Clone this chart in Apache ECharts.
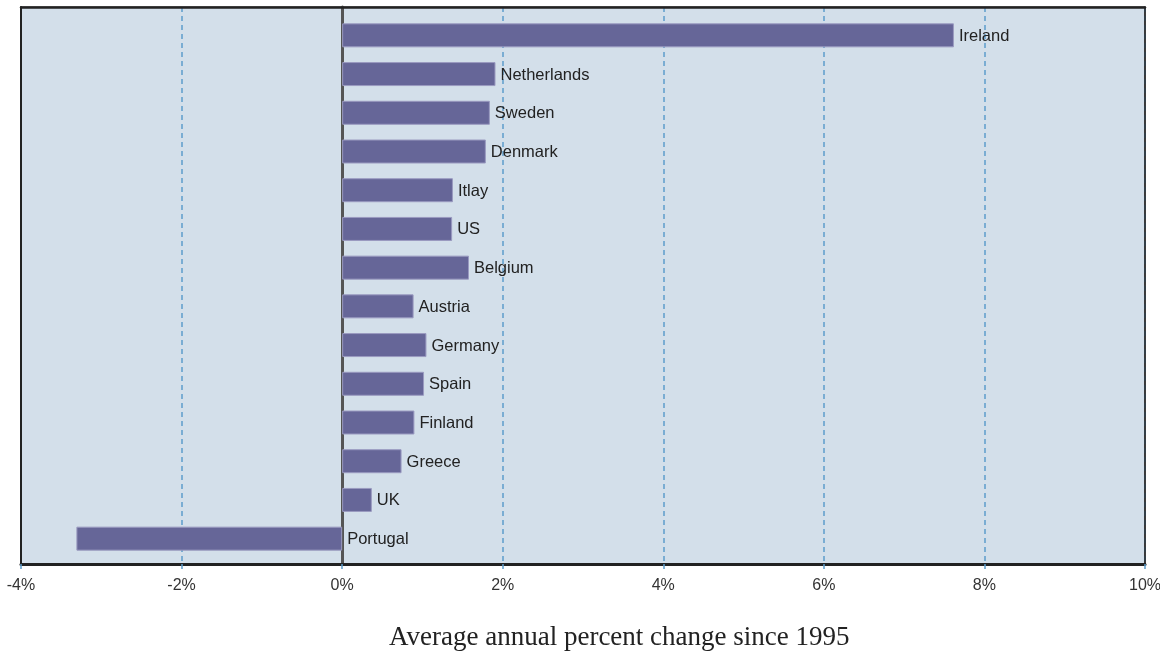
<!DOCTYPE html>
<html>
<head>
<meta charset="utf-8">
<script src="https://cdn.jsdelivr.net/npm/echarts@6/dist/echarts.min.js"></script>
<style>
    html, body { margin: 0; padding: 0; background: #fff; }
    #chart { width: 1160px; height: 651px; }
</style>
</head>
<body>
<div id="chart"></div>
<script>
// 数据
var countries = ['Ireland', 'Netherlands', 'Sweden', 'Denmark', 'Itlay', 'US', 'Belgium',
    'Austria', 'Germany', 'Spain', 'Finland', 'Greece', 'UK', 'Portugal'];
var change = [7.62, 1.91, 1.84, 1.79, 1.38, 1.37, 1.58, 0.89, 1.05, 1.02, 0.90, 0.74, 0.37, -3.31];
var axisMin = -4, axisMax = 10, axisStep = 2;
var axisTitle = 'Average annual percent change since 1995';

var chart = echarts.init(document.getElementById('chart'));

var gridLineColor = '#5d9dcb';

// 外框左右边线
function frameSide(pos, width) {
    return {
        gridIndex: 0, type: 'category', data: [''], position: pos,
        axisLine: {show: true, onZero: false, lineStyle: {color: '#222', width: width}},
        axisTick: {show: false}, axisLabel: {show: false}, splitLine: {show: false}
    };
}

var option = {
    animation: false,
    title: {
        text: axisTitle,
        left: 384, top: 619,
        textStyle: {fontFamily: 'Liberation Serif', fontSize: 27, fontWeight: 'normal', color: '#222'}
    },
    grid: [
        // 外框 + 网格线
        {left: 21, right: 15, top: 7, bottom: 87, show: true, outerBoundsMode: 'none',
            backgroundColor: '#d3dfea', borderColor: '#222', borderWidth: 1},
        // 柱子
        {left: 21, right: 15, top: 16, bottom: 93, outerBoundsMode: 'none'}
    ],
    xAxis: [
        {
            gridIndex: 0, type: 'value', min: axisMin, max: axisMax, interval: axisStep,
            position: 'bottom',
            axisLine: {show: true, onZero: false, lineStyle: {color: '#222', width: 3}},
            axisTick: {show: true, length: 6, lineStyle: {color: gridLineColor, width: 1.5, type: [5, 4]}},
            axisLabel: {
                margin: 14, fontFamily: 'Liberation Sans', fontSize: 16, color: '#333',
                formatter: function (v) { return v + '%'; }
            },
            splitLine: {show: true, lineStyle: {color: gridLineColor, width: 1.5, type: [5, 4]}}
        },
        {
            gridIndex: 0, type: 'value', min: axisMin, max: axisMax, position: 'top',
            axisLine: {show: true, onZero: false, lineStyle: {color: '#222', width: 2.5}},
            axisTick: {show: false}, axisLabel: {show: false}, splitLine: {show: false}
        },
        {
            gridIndex: 1, type: 'value', min: axisMin, max: axisMax, show: false
        }
    ],
    yAxis: [
        {
            gridIndex: 0, type: 'category', data: [''],
            axisLine: {show: true, onZero: true, lineStyle: {color: '#555', width: 3}},
            axisTick: {show: false}, axisLabel: {show: false}, splitLine: {show: false}
        },
        {
            gridIndex: 1, type: 'category', data: countries, inverse: true, show: false
        },
        frameSide('left', 2),
        frameSide('right', 1.5)
    ],
    series: [
        {
            type: 'scatter', xAxisIndex: 0, yAxisIndex: 0, data: [], silent: true
        },
        {
            type: 'bar', xAxisIndex: 2, yAxisIndex: 1,
            data: change,
            barWidth: 24,
            itemStyle: {color: '#666698', borderColor: '#9a9ac0', borderWidth: 1},
            label: {
                show: true, position: 'right', distance: 5, offset: [0, 1],
                fontFamily: 'Liberation Sans', fontSize: 16.5, color: '#222',
                formatter: function (p) { return p.name; }
            }
        }
    ]
};

chart.setOption(option);
window.onresize = function () {
    chart.resize();
};
</script>
</body>
</html>
